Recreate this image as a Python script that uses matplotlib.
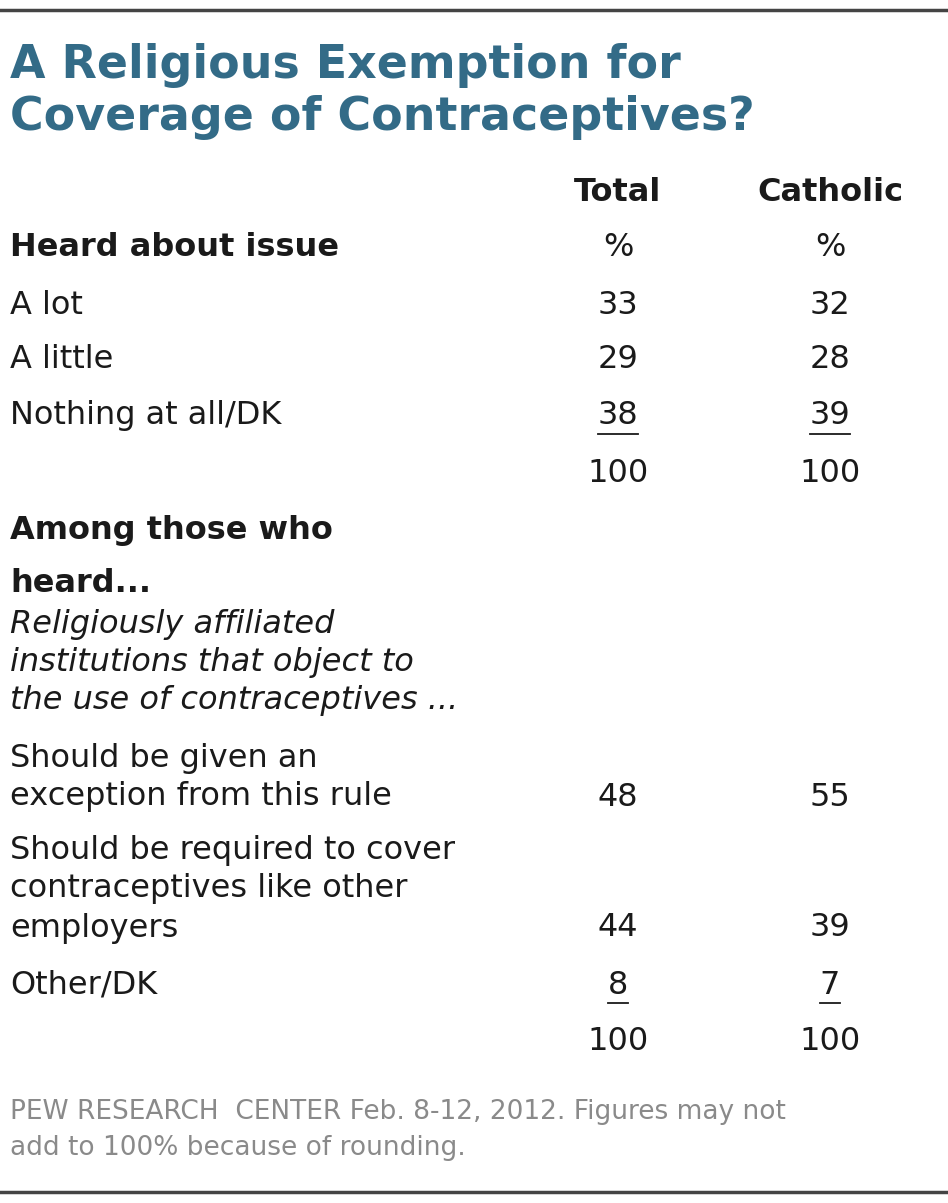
import matplotlib
matplotlib.use("Agg")
import matplotlib.pyplot as plt
from matplotlib.lines import Line2D

W, H = 948, 1203
title_lines = ["A Religious Exemption for", "Coverage of Contraceptives?"]
columns = ["Total", "Catholic"]
heard_labels = ["A lot", "A little", "Nothing at all/DK"]
heard_total = [33, 29, 38]
heard_catholic = [32, 28, 39]
opinion_labels = [["Should be given an", "exception from this rule"],
                  ["Should be required to cover", "contraceptives like other", "employers"],
                  ["Other/DK"]]
opinion_total = [48, 44, 8]
opinion_catholic = [55, 39, 7]
italic_lines = ["Religiously affiliated", "institutions that object to", "the use of contraceptives ..."]
footer = ["PEW RESEARCH  CENTER Feb. 8-12, 2012. Figures may not", "add to 100% because of rounding."]

fig = plt.figure(figsize=(W/100, H/100), dpi=100)
fig.patch.set_facecolor("white")
FONT = "DejaVu Sans"
TXT = "#1a1a1a"
COLX = [618, 830]

def t(x, y, s, **kw):
    kw.setdefault("fontsize", 23)
    kw.setdefault("color", TXT)
    kw.setdefault("va", "center")
    kw.setdefault("family", FONT)
    fig.text(x/W, 1-y/H, s, **kw)

def hline(x0, x1, y, lw, c):
    fig.add_artist(Line2D([x0/W, x1/W], [1-y/H, 1-y/H], lw=lw, color=c, transform=fig.transFigure))

hline(0, W, 10, 2.5, "#444444")
hline(0, W, 1192, 2.5, "#444444")
for i, s in enumerate(title_lines):
    t(10, 65+i*53, s, fontsize=33, weight="bold", color="#336b87")
for x, c in zip(COLX, columns):
    t(x, 192, c, ha="center", weight="bold")
t(10, 248, "Heard about issue", weight="bold")
for x in COLX:
    t(x, 248, "%", ha="center")

def num(x, y, v, under=False):
    t(x, y, str(v), ha="center")
    if under:
        w = 10*len(str(v))
        hline(x-w, x+w, y+18, 1.3, TXT)

ys = [305, 360, 416]
for i, (lab, a, b) in enumerate(zip(heard_labels, heard_total, heard_catholic)):
    t(10, ys[i], lab)
    num(COLX[0], ys[i], a, i == 2)
    num(COLX[1], ys[i], b, i == 2)
for x in COLX:
    num(x, 473, 100)

t(10, 530, "Among those who", weight="bold")
t(10, 583, "heard...", weight="bold")
for i, s in enumerate(italic_lines):
    t(10, 625+i*38, s, style="italic")

starts = [758, 850, 985]
for k, (labs, a, b) in enumerate(zip(opinion_labels, opinion_total, opinion_catholic)):
    for j, s in enumerate(labs):
        t(10, starts[k]+j*39, s)
    yv = starts[k]+(len(labs)-1)*39
    num(COLX[0], yv, a, k == 2)
    num(COLX[1], yv, b, k == 2)
for x in COLX:
    num(x, 1042, 100)

for i, s in enumerate(footer):
    t(10, 1112+i*36, s, fontsize=19, color="#8a8a8a")

fig.savefig("out.png", dpi=100)
